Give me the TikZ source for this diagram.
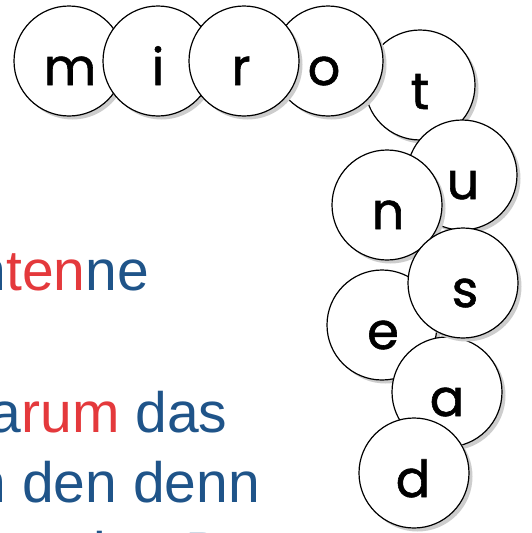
\documentclass[tikz,border=0pt]{standalone}
\usepackage{fontspec}
\setmainfont{Liberation Sans}
\newfontfamily\ballfont[FakeBold=1.2]{Poppins}
\usetikzlibrary{shadows}
\definecolor{txtblue}{RGB}{31,84,137}
\definecolor{txtred}{RGB}{228,57,60}
\definecolor{shade}{RGB}{205,205,205}
\begin{document}
\begin{tikzpicture}[x=1pt,y=-1pt,
  ball/.style={circle, draw=black, line width=1.2pt, fill=white, minimum size=110pt, inner sep=0pt,
    drop shadow={shadow xshift=3.5pt, shadow yshift=-3.5pt, fill=shade, opacity=1}},
  letter/.style={anchor=base, inner sep=0pt, font=\ballfont\fontsize{51}{60}\selectfont},
  txtline/.style={anchor=base west, inner sep=0pt, font=\fontsize{57}{68}\selectfont, text=txtblue}]
\useasboundingbox (0,0) rectangle (531,533);
\clip (0,0) rectangle (531,533);
\node[txtline] (t1) at (-25.7,290) {n\textcolor{txtred}{ten}ne};
\node[txtline] (t2) at (-10.5,432) {a\textcolor{txtred}{rum} das};
\node[txtline] (t3) at (-25.5,502) {n den denn};
\node[txtline] (t4) at (61.5,572) {eine D};
\foreach \nm/\x/\y/\dx in {m/69/61/1, i/158/61/0, t/420/85/0, o/328/61/-4, r/244/61/-3, u/462/175/1, n/387/205/1, e/382/325/1, a/447/392/0, s/463/283/2, d/414/473/-1} {
  \node[ball] (c\nm) at (\x,\y) {};
  \node[letter] (l\nm) at ([xshift=\dx pt, yshift=-24pt]c\nm.center) {\nm};
}
\end{tikzpicture}
\end{document}
